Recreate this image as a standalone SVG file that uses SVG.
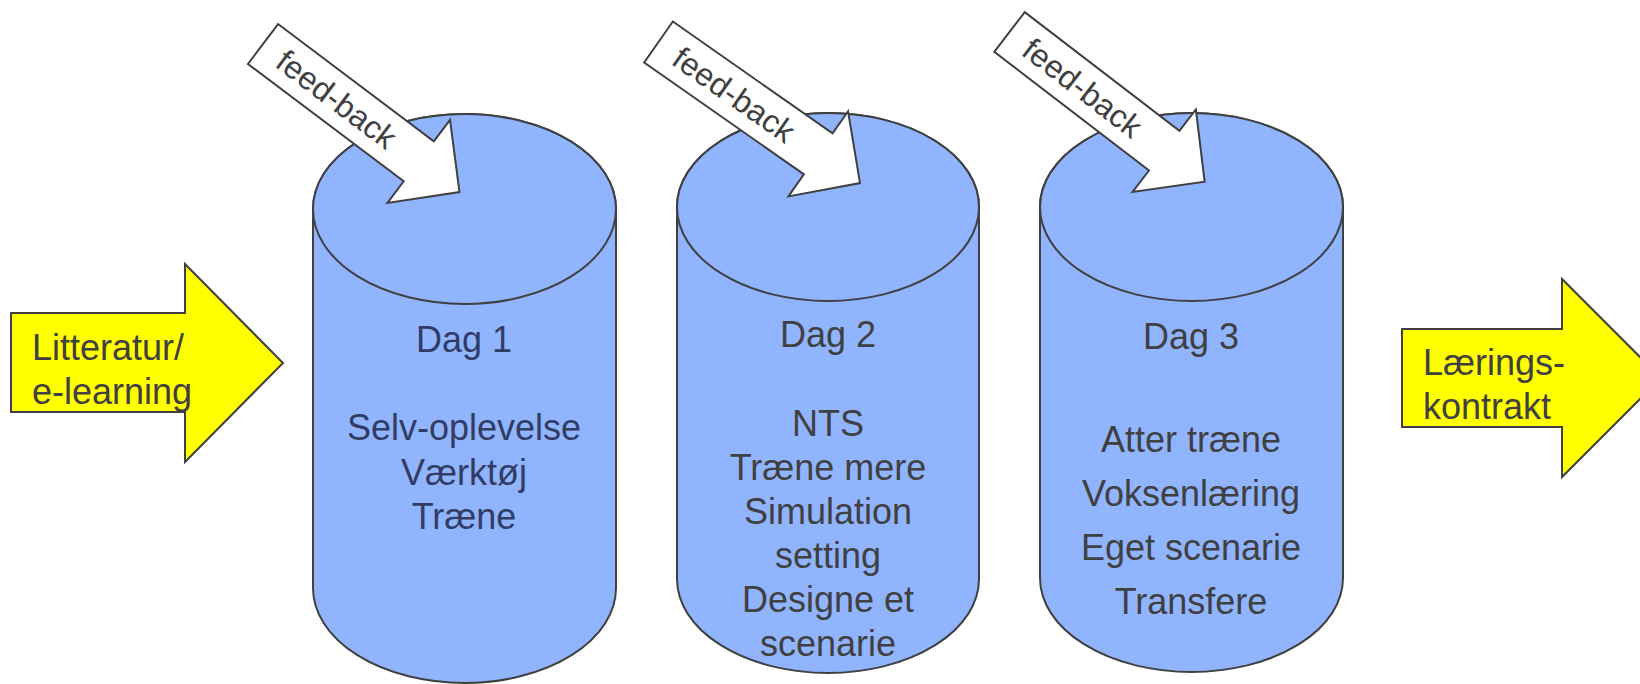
<svg xmlns="http://www.w3.org/2000/svg" width="1640" height="684" viewBox="0 0 1640 684">
<defs>
<style>
.cyl{fill:#91b4ff;stroke:#404040;stroke-width:2}
.fb{fill:#ffffff;stroke:#404040;stroke-width:2;stroke-linejoin:miter}
.ya{fill:#ffff00;stroke:#404040;stroke-width:2}
text{font-family:"Liberation Sans",Arial,sans-serif;font-size:36px;fill:#404040}
.c{text-anchor:middle}
.navy{fill:#323c64}
.fbt{font-size:32px;text-anchor:middle}
</style>
<polygon id="fbshape" points="0,-25 195,-25 195,-52 246,0 195,52 195,25 0,25"/>
</defs>
<rect width="1640" height="684" fill="#ffffff"/>

<g id="input-arrow">
<polygon class="ya" points="11,313 185,313 185,264 283,363 185,462 185,412 11,412"/>
<text x="32" y="360">Litteratur/</text>
<text x="32" y="404">e-learning</text>
</g>

<g id="output-arrow">
<polygon class="ya" points="1402,329 1562,329 1562,279 1661,378 1562,477 1562,427 1402,427"/>
<text x="1423" y="375">Lærings-</text>
<text x="1423" y="419">kontrakt</text>
</g>

<g id="dag1">
<path class="cyl" d="M313,209 A151.5,95 0 0 1 616,209 L616,588 A151.5,95 0 0 1 313,588 Z"/>
<ellipse class="cyl" cx="464.5" cy="209" rx="151.5" ry="95"/>
<text class="navy c" x="464" y="352">Dag 1</text>
<text class="navy c" x="464" y="440">Selv-oplevelse</text>
<text class="navy c" x="464" y="485">Værktøj</text>
<text class="navy c" x="464" y="529">Træne</text>
</g>

<g id="dag2">
<path class="cyl" d="M677,207 A151,94 0 0 1 979,207 L979,579 A151,94 0 0 1 677,579 Z"/>
<ellipse class="cyl" cx="828" cy="207" rx="151" ry="94"/>
<text class="c" x="828" y="347">Dag 2</text>
<text class="c" x="828" y="436">NTS</text>
<text class="c" x="828" y="480">Træne mere</text>
<text class="c" x="828" y="524">Simulation</text>
<text class="c" x="828" y="568">setting</text>
<text class="c" x="828" y="612">Designe et</text>
<text class="c" x="828" y="656">scenarie</text>
</g>

<g id="dag3">
<path class="cyl" d="M1040,207 A151.5,94 0 0 1 1343,207 L1343,578 A151.5,94 0 0 1 1040,578 Z"/>
<ellipse class="cyl" cx="1191.5" cy="207" rx="151.5" ry="94"/>
<text class="c" x="1191" y="349">Dag 3</text>
<text class="c" x="1191" y="452">Atter træne</text>
<text class="c" x="1191" y="506">Voksenlæring</text>
<text class="c" x="1191" y="560">Eget scenarie</text>
<text class="c" x="1191" y="614">Transfere</text>
</g>

<g id="connectors">
<g id="feedback1" transform="translate(263,44) rotate(37)">
<use href="#fbshape" class="fb"/>
<text class="fbt" x="92" y="11">feed-back</text>
</g>
<g id="feedback2" transform="translate(658.5,42) rotate(35)">
<use href="#fbshape" class="fb"/>
<text class="fbt" x="92" y="11">feed-back</text>
</g>
<g id="feedback3" transform="translate(1009.5,32) rotate(37.5)">
<use href="#fbshape" class="fb"/>
<text class="fbt" x="92" y="11">feed-back</text>
</g>
</g>
</svg>
